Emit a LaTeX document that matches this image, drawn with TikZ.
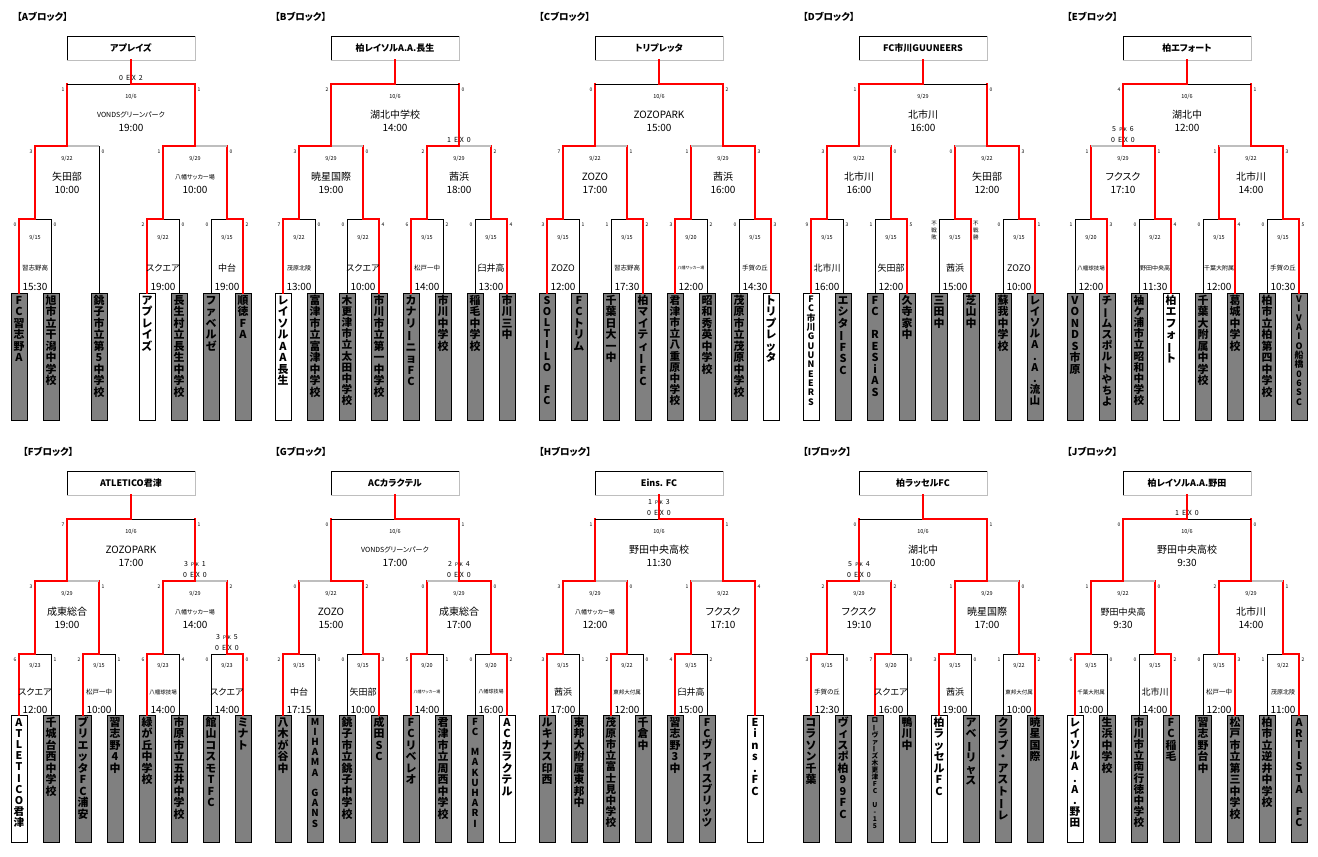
\documentclass[tikz,border=0pt]{standalone}
\usepackage{fontspec}
\setmainfont{Noto Sans CJK JP}[RawFeature={+palt}]
\usepackage{graphicx}

\definecolor{teamgray}{RGB}{128,128,128}
\definecolor{linegray}{RGB}{190,190,190}

\tikzset{
  win/.style={draw=red, line width=1.8pt, line cap=rect},
  lose/.style={draw=black, line width=0.6pt},
  dim/.style={draw=linegray, line width=1.8pt},
  teambox/.style={draw, line width=0.6pt, fill=teamgray, anchor=north, minimum width=16pt, minimum height=127pt, inner sep=0pt},
  teamlabel/.style={anchor=north, inner sep=1.5pt},
  champ/.style={draw, line width=0.6pt, minimum width=128pt, minimum height=24pt, font=\bfseries\fontsize{9}{9}\selectfont},
  blocktitle/.style={anchor=west, inner sep=0pt, font=\bfseries\fontsize{9.5}{9.5}\selectfont},
  datetxt/.style={inner sep=0pt, font=\fontsize{5.5}{5.5}\selectfont},
  venuetxt/.style={inner sep=0pt, font=\fontsize{10}{10}\selectfont},
  timetxt/.style={inner sep=0pt, font=\fontsize{10}{10}\selectfont},
  scoretxt/.style={inner sep=0pt, font=\fontsize{5}{5}\selectfont},
  notetxt/.style={inner sep=0pt, font=\fontsize{7}{7}\selectfont}
}

% vertical team names, one character per line
\makeatletter
\newcount\vt@n
\def\vt@bar{ー}
\newcommand\vtext[1]{%
  \vt@n=0 \@tfor\vt@c:=#1\do{\advance\vt@n\@ne}%
  \pgfmathsetmacro\vt@p{min(11.5,112/\the\vt@n)}%
  \pgfmathsetmacro\vt@f{min(11,0.95*\vt@p)}%
  \dimen@=\vt@p pt\relax
  \fontsize{\vt@f}{\vt@p}\selectfont\bfseries
  \vbox{\offinterlineskip
    \@tfor\vt@c:=#1\do{\hbox to 0pt{\hss
      \vrule height .84\dimen@ depth .16\dimen@ width 0pt
      \ifx\vt@c\vt@bar\rotatebox[origin=c]{90}{ー}\else\vt@c\fi\hss}}}}
\makeatother

\newcommand\teamtop{293}
\newcommand\frd{19}
\newcommand\frv{49}
\newcommand\frt{68}

\newcommand\blockhead[4]{%
  \node[blocktitle] (#1-title) at (#2,17) {#3};
  \node[champ] (#1) at (0,48) {#4};
  \draw[dim, line width=1pt] (#1.south west) -- (#1.south east) -- (#1.north east);
  \coordinate (#1-f) at (0,84);
  \coordinate (#1-s1) at (-64,146);
  \coordinate (#1-s2) at (64,146);
  \coordinate (#1-g1) at (-96,219);
  \coordinate (#1-g2) at (-32,219);
  \coordinate (#1-g3) at (32,219);
  \coordinate (#1-g4) at (96,219);
}
\newcommand\team[4][teamgray]{%
  \node[teambox, fill=#1, label={[teamlabel]north:{\vtext{#4}}}] (#2) at (#3,\teamtop) {};}
\newcommand\link[4]{%
  \draw[#3] (#1) -- (#1 |- #2);
  \draw[#4] (#1 |- #2) -- (#2);}
\newcommand\upinfo[7]{%
  \node[datetxt] (#1-date) at ([yshift=-13pt]#1) {#3};
  \node[venuetxt] (#1-venue) at ([yshift=-31pt]#1) {#4};
  \node[timetxt] (#1-time) at ([yshift=-44pt]#1) {#5};
  \node[scoretxt, anchor=east] (#1-ls) at ([xshift=-#2pt-2.5pt, yshift=-6pt]#1) {#6};
  \node[scoretxt, anchor=west] (#1-rs) at ([xshift=#2pt+2.5pt, yshift=-6pt]#1) {#7};}
\newcommand\frinfo[6]{%
  \node[datetxt] (#1-date) at ([yshift=-\frd pt]#1) {#2};
  \node[venuetxt, font=\fontsize{9}{9}\selectfont] (#1-venue) at ([yshift=-\frv pt]#1) {#3};
  \node[timetxt] (#1-time) at ([yshift=-\frt pt]#1) {#4};
  \node[scoretxt, anchor=east] (#1-ls) at ([xshift=-18.5pt, yshift=-6pt]#1) {#5};
  \node[scoretxt, anchor=west] (#1-rs) at ([xshift=18.5pt, yshift=-6pt]#1) {#6};}
\newcommand\vs[2]{{\fontsize{#1}{#1}\selectfont #2}}
\newcommand\exsc[2]{#1~~E~X~~#2}
\newcommand\pksc[2]{#1~~{\fontsize{5}{5}\selectfont P~K}~~#2}
\newcommand\exnote[2]{\node[notetxt] (#1-ex) at ([yshift=6pt]#1) {#2};}
\newcommand\pknote[2]{\node[notetxt] (#1-pk) at ([yshift=17pt]#1) {#2};}

\begin{document}
\begin{tikzpicture}[x=1pt,y=-1pt]
\fill[white] (0,0) rectangle (1318,857);
\useasboundingbox (0,0) rectangle (1318,857);

% ---------------- A
\begin{scope}[shift={(131,0)}]
  \blockhead{A}{-114}{【Aブロック】}{アプレイズ}
  \team{A1}{-112}{FC習志野A}
  \team{A2}{-80}{旭市立干潟中学校}
  \team{A3}{-32}{銚子市立第5中学校}
  \team[white]{A5}{16}{アプレイズ}
  \team{A6}{48}{長生村立長生中学校}
  \team{A7}{80}{ファベルゼ}
  \team{A8}{112}{順徳FA}
  \link{A2.north}{A-g1}{lose}{lose} \link{A1.north}{A-g1}{win}{win}
  \link{A6.north}{A-g3}{lose}{lose} \link{A5.north}{A-g3}{win}{win}
  \link{A7.north}{A-g4}{lose}{lose} \link{A8.north}{A-g4}{win}{win}
  \link{A3.north}{A-s1}{lose}{dim} \link{A-g1}{A-s1}{win}{win}
  \link{A-g4}{A-s2}{win}{dim} \link{A-g3}{A-s2}{win}{win}
  \link{A-s1}{A-f}{win}{lose} \link{A-s2}{A-f}{win}{win}
  \draw[win] (A-f) -- (A.south);
  \upinfo{A-f}{64}{10/6}{\vs{7}{VONDSグリーンパーク}}{19:00}{1}{1}
  \exnote{A-f}{\exsc{0}{2}}
  \upinfo{A-s1}{32}{9/22}{矢田部}{10:00}{3}{0}
  \upinfo{A-s2}{32}{9/29}{\vs{6}{八幡サッカー場}}{10:00}{1}{0}
  \frinfo{A-g1}{9/15}{\vs{6.5}{習志野高}}{15:30}{0}{0}
  \frinfo{A-g3}{9/22}{スクエア}{19:00}{2}{0}
  \frinfo{A-g4}{9/15}{中台}{19:00}{0}{2}
\end{scope}

% ---------------- B
\begin{scope}[shift={(395,0)}]
  \blockhead{B}{-120}{【Bブロック】}{柏レイソルA.A.長生}
  \team[white]{B1}{-112}{レイソルAA長生}
  \team{B2}{-80}{富津市立富津中学校}
  \team{B3}{-48}{木更津市立太田中学校}
  \team{B4}{-16}{市川市立第一中学校}
  \team{B5}{16}{カナリーニョFC}
  \team{B6}{48}{市川中学校}
  \team{B7}{80}{稲毛中学校}
  \team{B8}{112}{市川三中}
  \link{B2.north}{B-g1}{lose}{lose} \link{B1.north}{B-g1}{win}{win}
  \link{B3.north}{B-g2}{lose}{lose} \link{B4.north}{B-g2}{win}{win}
  \link{B6.north}{B-g3}{lose}{lose} \link{B5.north}{B-g3}{win}{win}
  \link{B7.north}{B-g4}{lose}{lose} \link{B8.north}{B-g4}{win}{win}
  \link{B-g2}{B-s1}{win}{dim} \link{B-g1}{B-s1}{win}{win}
  \link{B-g4}{B-s2}{win}{dim} \link{B-g3}{B-s2}{win}{win}
  \link{B-s2}{B-f}{win}{lose} \link{B-s1}{B-f}{win}{win}
  \draw[win] (B-f) -- (B.south);
  \upinfo{B-f}{64}{10/6}{湖北中学校}{14:00}{2}{0}
  \upinfo{B-s1}{32}{9/29}{暁星国際}{19:00}{3}{0}
  \upinfo{B-s2}{32}{9/29}{茜浜}{18:00}{2}{2}
  \exnote{B-s2}{\exsc{1}{0}}
  \frinfo{B-g1}{9/22}{\vs{6}{茂原北陵}}{13:00}{7}{0}
  \frinfo{B-g2}{9/22}{スクエア}{10:00}{0}{4}
  \frinfo{B-g3}{9/15}{\vs{6.5}{松戸一中}}{14:00}{6}{2}
  \frinfo{B-g4}{9/15}{臼井高}{13:00}{0}{4}
\end{scope}

% ---------------- C
\begin{scope}[shift={(659,0)}]
  \blockhead{C}{-120}{【Cブロック】}{トリプレッタ}
  \team{C1}{-112}{SOLTILO~FC}
  \team{C2}{-80}{FCトリム}
  \team{C3}{-48}{千葉日大一中}
  \team{C4}{-16}{柏マイティーFC}
  \team{C5}{16}{君津市立八重原中学校}
  \team{C6}{48}{昭和秀英中学校}
  \team{C7}{80}{茂原市立茂原中学校}
  \team[white]{C8}{112}{トリプレッタ}
  \link{C2.north}{C-g1}{lose}{lose} \link{C1.north}{C-g1}{win}{win}
  \link{C3.north}{C-g2}{lose}{lose} \link{C4.north}{C-g2}{win}{win}
  \link{C6.north}{C-g3}{lose}{lose} \link{C5.north}{C-g3}{win}{win}
  \link{C7.north}{C-g4}{lose}{lose} \link{C8.north}{C-g4}{win}{win}
  \link{C-g2}{C-s1}{win}{dim} \link{C-g1}{C-s1}{win}{win}
  \link{C-g3}{C-s2}{win}{dim} \link{C-g4}{C-s2}{win}{win}
  \link{C-s1}{C-f}{win}{lose} \link{C-s2}{C-f}{win}{win}
  \draw[win] (C-f) -- (C.south);
  \upinfo{C-f}{64}{10/6}{ZOZOPARK}{15:00}{0}{2}
  \upinfo{C-s1}{32}{9/22}{ZOZO}{17:00}{7}{1}
  \upinfo{C-s2}{32}{9/29}{茜浜}{16:00}{1}{3}
  \frinfo{C-g1}{9/15}{ZOZO}{12:00}{3}{1}
  \frinfo{C-g2}{9/15}{\vs{6.5}{習志野高}}{17:30}{1}{2}
  \frinfo{C-g3}{9/20}{\vs{4}{八幡サッカー場}}{12:00}{3}{2}
  \frinfo{C-g4}{9/15}{\vs{6.5}{手賀の丘}}{14:30}{0}{3}
\end{scope}

% ---------------- D
\begin{scope}[shift={(923,0)}]
  \blockhead{D}{-120}{【Dブロック】}{FC市川GUUNEERS}
  \team[white]{D1}{-112}{FC市川GUUNEERS}
  \team{D2}{-80}{エシターFSC}
  \team{D3}{-48}{FC~RESiAS}
  \team{D4}{-16}{久寺家中}
  \team{D5}{16}{三田中}
  \team{D6}{48}{芝山中}
  \team{D7}{80}{蘇我中学校}
  \team{D8}{112}{レイソルA.A.流山}
  \link{D2.north}{D-g1}{lose}{lose} \link{D1.north}{D-g1}{win}{win}
  \link{D3.north}{D-g2}{lose}{lose} \link{D4.north}{D-g2}{win}{win}
  \link{D5.north}{D-g3}{lose}{lose} \link{D6.north}{D-g3}{win}{win}
  \link{D7.north}{D-g4}{lose}{lose} \link{D8.north}{D-g4}{win}{win}
  \link{D-g2}{D-s1}{win}{dim} \link{D-g1}{D-s1}{win}{win}
  \link{D-g3}{D-s2}{win}{dim} \link{D-g4}{D-s2}{win}{win}
  \link{D-s2}{D-f}{win}{lose} \link{D-s1}{D-f}{win}{win}
  \draw[win] (D-f) -- (D.south);
  \upinfo{D-f}{64}{9/29}{北市川}{16:00}{1}{0}
  \upinfo{D-s1}{32}{9/22}{北市川}{16:00}{3}{0}
  \upinfo{D-s2}{32}{9/22}{矢田部}{12:00}{0}{3}
  \frinfo{D-g1}{9/15}{北市川}{16:00}{9}{3}
  \frinfo{D-g2}{9/15}{矢田部}{12:00}{1}{5}
  \frinfo{D-g3}{9/15}{茜浜}{15:00}{}{}
  \node[scoretxt, anchor=north east, align=center, font=\fontsize{5.5}{7}\selectfont] (D-g3-lost) at ([xshift=-18pt, yshift=-2pt]D-g3) {不\\戦\\敗};
  \node[scoretxt, anchor=north west, align=center, font=\fontsize{5.5}{7}\selectfont] (D-g3-won) at ([xshift=18pt, yshift=-2pt]D-g3) {不\\戦\\勝};
  \frinfo{D-g4}{9/15}{ZOZO}{10:00}{0}{1}
\end{scope}

% ---------------- E
\begin{scope}[shift={(1187,0)}]
  \blockhead{E}{-120}{【Eブロック】}{柏エフォート}
  \team{E1}{-112}{VONDS市原}
  \team{E2}{-80}{チームスポルトやちよ}
  \team{E3}{-48}{袖ケ浦市立昭和中学校}
  \team[white]{E4}{-16}{柏エフォート}
  \team{E5}{16}{千葉大附属中学校}
  \team{E6}{48}{葛城中学校}
  \team{E7}{80}{柏市立柏第四中学校}
  \team{E8}{112}{VIVAIO船橋06SC}
  \link{E1.north}{E-g1}{lose}{lose} \link{E2.north}{E-g1}{win}{win}
  \link{E3.north}{E-g2}{lose}{lose} \link{E4.north}{E-g2}{win}{win}
  \link{E5.north}{E-g3}{lose}{lose} \link{E6.north}{E-g3}{win}{win}
  \link{E7.north}{E-g4}{lose}{lose} \link{E8.north}{E-g4}{win}{win}
  \link{E-g1}{E-s1}{win}{dim} \link{E-g2}{E-s1}{win}{win}
  \link{E-g3}{E-s2}{win}{dim} \link{E-g4}{E-s2}{win}{win}
  \link{E-s2}{E-f}{win}{lose} \link{E-s1}{E-f}{win}{win}
  \draw[win] (E-f) -- (E.south);
  \upinfo{E-f}{64}{10/6}{湖北中}{12:00}{4}{1}
  \upinfo{E-s1}{32}{9/29}{フクスク}{17:10}{1}{1}
  \pknote{E-s1}{\pksc{5}{6}}
  \exnote{E-s1}{\exsc{0}{0}}
  \upinfo{E-s2}{32}{9/22}{北市川}{14:00}{1}{3}
  \frinfo{E-g1}{9/20}{\vs{5.5}{八幡球技場}}{12:00}{1}{3}
  \frinfo{E-g2}{9/22}{\vs{6}{野田中央高}}{11:30}{0}{4}
  \frinfo{E-g3}{9/15}{\vs{6}{千葉大附属}}{12:00}{0}{4}
  \frinfo{E-g4}{9/15}{\vs{6.5}{手賀の丘}}{10:30}{0}{5}
\end{scope}

% second row
\renewcommand\teamtop{280}
\renewcommand\frd{12}
\renewcommand\frv{38}
\renewcommand\frt{56}

% ---------------- F
\begin{scope}[shift={(131,435)}]
  \blockhead{F}{-108}{【Fブロック】}{ATLETICO君津}
  \team[white]{F1}{-112}{ATLETICO君津}
  \team{F2}{-80}{千城台西中学校}
  \team{F3}{-48}{ブリエッタFC浦安}
  \team{F4}{-16}{習志野4中}
  \team{F5}{16}{緑が丘中学校}
  \team{F6}{48}{市原市立五井中学校}
  \team{F7}{80}{館山コスモTFC}
  \team{F8}{112}{ミナト}
  \link{F2.north}{F-g1}{lose}{lose} \link{F1.north}{F-g1}{win}{win}
  \link{F4.north}{F-g2}{lose}{lose} \link{F3.north}{F-g2}{win}{win}
  \link{F6.north}{F-g3}{lose}{lose} \link{F5.north}{F-g3}{win}{win}
  \link{F7.north}{F-g4}{lose}{lose} \link{F8.north}{F-g4}{win}{win}
  \link{F-g2}{F-s1}{win}{dim} \link{F-g1}{F-s1}{win}{win}
  \link{F-g4}{F-s2}{win}{dim} \link{F-g3}{F-s2}{win}{win}
  \link{F-s2}{F-f}{win}{lose} \link{F-s1}{F-f}{win}{win}
  \draw[win] (F-f) -- (F.south);
  \upinfo{F-f}{64}{10/6}{ZOZOPARK}{17:00}{7}{1}
  \upinfo{F-s1}{32}{9/29}{成東総合}{19:00}{3}{1}
  \upinfo{F-s2}{32}{9/29}{\vs{6}{八幡サッカー場}}{14:00}{2}{2}
  \pknote{F-s2}{\pksc{3}{1}}
  \exnote{F-s2}{\exsc{0}{0}}
  \frinfo{F-g1}{9/23}{スクエア}{12:00}{6}{1}
  \frinfo{F-g2}{9/15}{\vs{6.5}{松戸一中}}{10:00}{2}{1}
  \frinfo{F-g3}{9/23}{\vs{5.5}{八幡球技場}}{14:00}{6}{4}
  \frinfo{F-g4}{9/23}{スクエア}{14:00}{0}{0}
  \pknote{F-g4}{\pksc{3}{5}}
  \exnote{F-g4}{\exsc{0}{0}}
\end{scope}

% ---------------- G
\begin{scope}[shift={(395,435)}]
  \blockhead{G}{-120}{【Gブロック】}{ACカラクテル}
  \team{G1}{-112}{八木が谷中}
  \team{G2}{-80}{MIHAMA~GANS}
  \team{G3}{-48}{銚子市立銚子中学校}
  \team{G4}{-16}{成田SC}
  \team{G5}{16}{FCリベレオ}
  \team{G6}{48}{君津市立周西中学校}
  \team{G7}{80}{FC~MAKUHARI}
  \team[white]{G8}{112}{ACカラクテル}
  \link{G2.north}{G-g1}{lose}{lose} \link{G1.north}{G-g1}{win}{win}
  \link{G3.north}{G-g2}{lose}{lose} \link{G4.north}{G-g2}{win}{win}
  \link{G6.north}{G-g3}{lose}{lose} \link{G5.north}{G-g3}{win}{win}
  \link{G7.north}{G-g4}{lose}{lose} \link{G8.north}{G-g4}{win}{win}
  \link{G-g1}{G-s1}{win}{dim} \link{G-g2}{G-s1}{win}{win}
  \link{G-g3}{G-s2}{win}{dim} \link{G-g4}{G-s2}{win}{win}
  \link{G-s1}{G-f}{win}{lose} \link{G-s2}{G-f}{win}{win}
  \draw[win] (G-f) -- (G.south);
  \upinfo{G-f}{64}{10/6}{\vs{7}{VONDSグリーンパーク}}{17:00}{0}{1}
  \upinfo{G-s1}{32}{9/22}{ZOZO}{15:00}{0}{2}
  \upinfo{G-s2}{32}{9/29}{成東総合}{17:00}{0}{0}
  \pknote{G-s2}{\pksc{2}{4}}
  \exnote{G-s2}{\exsc{0}{0}}
  \frinfo{G-g1}{9/15}{中台}{17:15}{2}{0}
  \frinfo{G-g2}{9/15}{矢田部}{10:00}{0}{3}
  \frinfo{G-g3}{9/20}{\vs{4}{八幡サッカー場}}{14:00}{5}{1}
  \frinfo{G-g4}{9/20}{\vs{5}{八幡球技場}}{16:00}{0}{2}
\end{scope}

% ---------------- H
\begin{scope}[shift={(659,435)}]
  \blockhead{H}{-120}{【Hブロック】}{Eins. FC}
  \team{H1}{-112}{ルキナス印西}
  \team{H2}{-80}{東邦大附属東邦中}
  \team{H3}{-48}{茂原市立富士見中学校}
  \team{H4}{-16}{千倉中}
  \team{H5}{16}{習志野3中}
  \team{H6}{48}{FCヴァイスブリッツ}
  \team[white]{H8}{96}{Eins.FC}
  \link{H2.north}{H-g1}{lose}{lose} \link{H1.north}{H-g1}{win}{win}
  \link{H4.north}{H-g2}{lose}{lose} \link{H3.north}{H-g2}{win}{win}
  \link{H6.north}{H-g3}{lose}{lose} \link{H5.north}{H-g3}{win}{win}
  \link{H-g2}{H-s1}{win}{dim} \link{H-g1}{H-s1}{win}{win}
  \link{H-g3}{H-s2}{win}{dim} \link{H8.north}{H-s2}{win}{win}
  \link{H-s1}{H-f}{win}{lose} \link{H-s2}{H-f}{win}{win}
  \draw[win] (H-f) -- (H.south);
  \upinfo{H-f}{64}{10/6}{野田中央高校}{11:30}{1}{1}
  \pknote{H-f}{\pksc{1}{3}}
  \exnote{H-f}{\exsc{0}{0}}
  \upinfo{H-s1}{32}{9/29}{\vs{6}{八幡サッカー場}}{12:00}{3}{0}
  \upinfo{H-s2}{32}{9/22}{フクスク}{17:10}{1}{4}
  \frinfo{H-g1}{9/15}{茜浜}{17:00}{3}{1}
  \frinfo{H-g2}{9/22}{\vs{5.5}{東邦大付属}}{12:00}{2}{0}
  \frinfo{H-g3}{9/15}{臼井高}{15:00}{4}{2}
\end{scope}

% ---------------- I
\begin{scope}[shift={(923,435)}]
  \blockhead{I}{-120}{【Iブロック】}{柏ラッセルFC}
  \team{I1}{-112}{コラソン千葉}
  \team{I2}{-80}{ヴィスポ柏99FC}
  \team{I3}{-48}{ローヴァーズ木更津FC~U-15}
  \team{I4}{-16}{鴨川中}
  \team[white]{I5}{16}{柏ラッセルFC}
  \team{I6}{48}{アベーリャス}
  \team{I7}{80}{クラブ・アストーレ}
  \team{I8}{112}{暁星国際}
  \link{I2.north}{I-g1}{lose}{lose} \link{I1.north}{I-g1}{win}{win}
  \link{I4.north}{I-g2}{lose}{lose} \link{I3.north}{I-g2}{win}{win}
  \link{I6.north}{I-g3}{lose}{lose} \link{I5.north}{I-g3}{win}{win}
  \link{I7.north}{I-g4}{lose}{lose} \link{I8.north}{I-g4}{win}{win}
  \link{I-g2}{I-s1}{win}{dim} \link{I-g1}{I-s1}{win}{win}
  \link{I-g4}{I-s2}{win}{dim} \link{I-g3}{I-s2}{win}{win}
  \link{I-s1}{I-f}{win}{lose} \link{I-s2}{I-f}{win}{win}
  \draw[win] (I-f) -- (I.south);
  \upinfo{I-f}{64}{10/6}{湖北中}{10:00}{0}{1}
  \upinfo{I-s1}{32}{9/29}{フクスク}{19:10}{2}{2}
  \pknote{I-s1}{\pksc{5}{4}}
  \exnote{I-s1}{\exsc{0}{0}}
  \upinfo{I-s2}{32}{9/29}{暁星国際}{17:00}{1}{0}
  \frinfo{I-g1}{9/15}{\vs{6.5}{手賀の丘}}{12:30}{3}{0}
  \frinfo{I-g2}{9/20}{スクエア}{16:00}{7}{0}
  \frinfo{I-g3}{9/15}{茜浜}{19:00}{3}{0}
  \frinfo{I-g4}{9/22}{\vs{5.5}{東邦大付属}}{10:00}{1}{2}
\end{scope}

% ---------------- J
\begin{scope}[shift={(1187,435)}]
  \blockhead{J}{-120}{【Jブロック】}{柏レイソルA.A.野田}
  \team[white]{J1}{-112}{レイソルA.A.野田}
  \team{J2}{-80}{生浜中学校}
  \team{J3}{-48}{市川市立南行徳中学校}
  \team{J4}{-16}{FC稲毛}
  \team{J5}{16}{習志野台中}
  \team{J6}{48}{松戸市立第三中学校}
  \team{J7}{80}{柏市立逆井中学校}
  \team{J8}{112}{ARTISTA~FC}
  \link{J2.north}{J-g1}{lose}{lose} \link{J1.north}{J-g1}{win}{win}
  \link{J3.north}{J-g2}{lose}{lose} \link{J4.north}{J-g2}{win}{win}
  \link{J5.north}{J-g3}{lose}{lose} \link{J6.north}{J-g3}{win}{win}
  \link{J7.north}{J-g4}{lose}{lose} \link{J8.north}{J-g4}{win}{win}
  \link{J-g2}{J-s1}{win}{dim} \link{J-g1}{J-s1}{win}{win}
  \link{J-g4}{J-s2}{win}{dim} \link{J-g3}{J-s2}{win}{win}
  \link{J-s2}{J-f}{win}{lose} \link{J-s1}{J-f}{win}{win}
  \draw[win] (J-f) -- (J.south);
  \upinfo{J-f}{64}{10/6}{野田中央高校}{9:30}{0}{0}
  \exnote{J-f}{\exsc{1}{0}}
  \upinfo{J-s1}{32}{9/22}{\vs{9}{野田中央高}}{9:30}{1}{0}
  \upinfo{J-s2}{32}{9/29}{北市川}{14:00}{2}{1}
  \frinfo{J-g1}{9/15}{\vs{5.5}{千葉大附属}}{10:00}{6}{0}
  \frinfo{J-g2}{9/15}{北市川}{14:00}{0}{2}
  \frinfo{J-g3}{9/15}{\vs{6.5}{松戸一中}}{12:00}{0}{3}
  \frinfo{J-g4}{9/22}{\vs{6}{茂原北陵}}{11:00}{1}{2}
\end{scope}
\end{tikzpicture}
\end{document}
